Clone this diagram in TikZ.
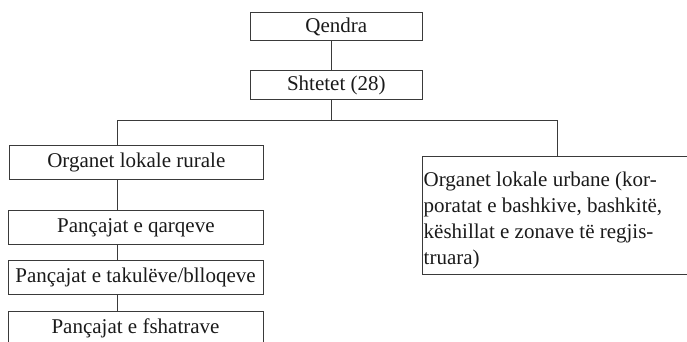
\documentclass[tikz,border=0pt]{standalone}
\usepackage{fontspec}
\setmainfont{Liberation Serif}
\definecolor{linec}{HTML}{3A3A3A}
\definecolor{txtc}{HTML}{1A1A1A}
\begin{document}
\begin{tikzpicture}[x=1pt,y=-1pt,
  box/.style={draw=linec,line width=1pt,rectangle,inner sep=0pt,text=txtc,
    font=\fontsize{21}{25.5}\selectfont},
  conn/.style={draw=linec,line width=1pt}]
\useasboundingbox (0,0) rectangle (687,342);
\clip (0,0) rectangle (687,342);
\node[box,minimum width=171.4pt,minimum height=28.7pt] (qendra) at (336.3,26.6) {\raisebox{2pt}{Qendra}};
\node[box,minimum width=171.4pt,minimum height=29pt] (shtetet) at (336.3,85.2) {\raisebox{2pt}{Shtetet (28)}};
\node[box,minimum width=253.4pt,minimum height=33.6pt] (rural) at (136.3,162.5) {Organet lokale rurale};
\node[box,minimum width=254.2pt,minimum height=33.6pt] (qarq) at (135.9,227.5) {Pançajat e qarqeve};
\node[box,minimum width=255pt,minimum height=33.7pt] (tak) at (135.5,277.8) {Pançajat e takulëve/blloqeve};
\node[box,minimum width=255pt,minimum height=33.6pt] (fsh) at (135.5,328.5) {Pançajat e fshatrave};
\node[box,minimum width=267pt,minimum height=117.6pt] (urb) at (556.4,215.5) {};
\node[anchor=north west,inner sep=0pt,align=left,text=txtc,
  font=\fontsize{21}{25.8}\selectfont] (urbt) at (423.5,172) {Organet lokale urbane (kor-\\poratat e bashkive, bashkitë,\\këshillat e zonave të regjis-\\truara)};
\coordinate (tr) at (331.7,120.3);
\coordinate (lc) at (117,120.3);
\coordinate (rc) at (557.4,120.3);
\draw[conn] (qendra.south -| tr) -- (shtetet.north -| tr);
\draw[conn] (shtetet.south -| tr) -- (tr);
\draw[conn] (lc |- rural.north) -- (lc) -- (rc) -- (rc |- urb.north);
\draw[conn] (rural.south -| lc) -- (qarq.north -| lc);
\draw[conn] (qarq.south -| lc) -- (tak.north -| lc);
\draw[conn] (tak.south -| lc) -- (fsh.north -| lc);
\end{tikzpicture}
\end{document}
